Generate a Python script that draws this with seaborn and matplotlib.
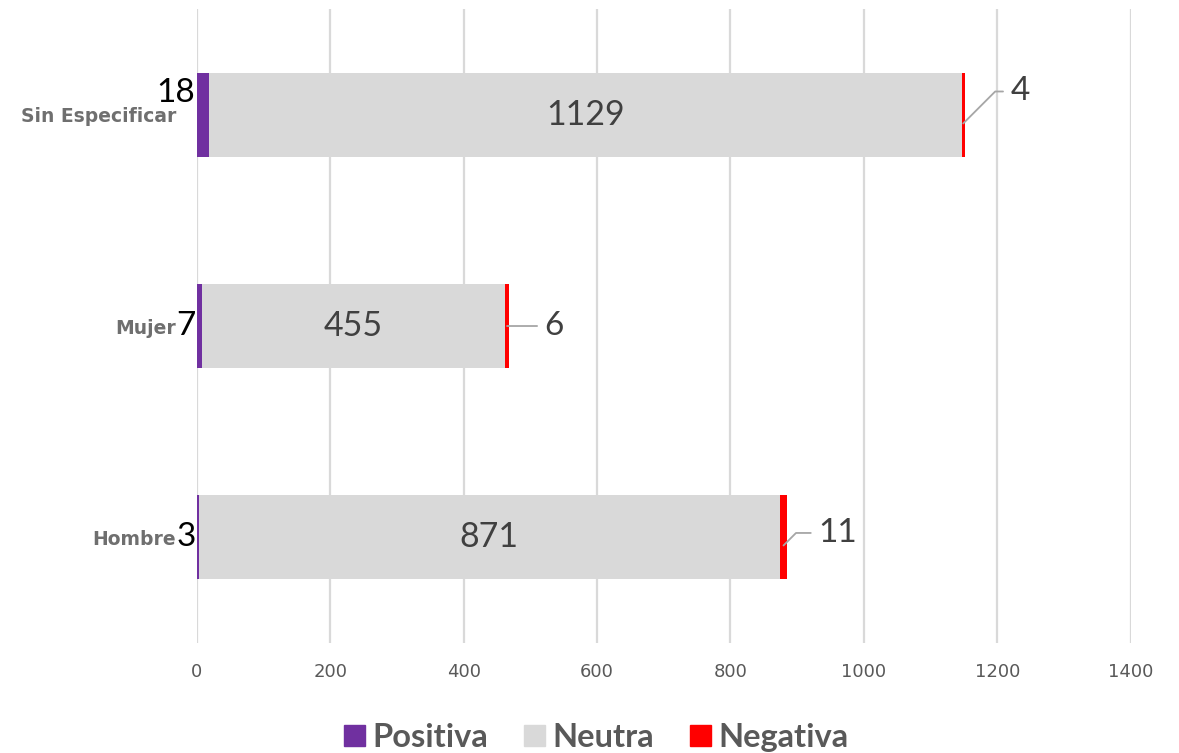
import matplotlib
matplotlib.use("Agg")
import matplotlib.pyplot as plt
import seaborn as sns
import pandas as pd
from matplotlib.patches import Patch

categories = ["Sin Especificar", "Mujer", "Hombre"]
positiva = [18, 7, 3]
neutra = [1129, 455, 871]
negativa = [4, 6, 11]
xticks = [0, 200, 400, 600, 800, 1000, 1200, 1400]

c_pos, c_neu, c_neg = "#7030a0", "#d9d9d9", "#ff0000"

df = pd.DataFrame({"cat": categories, "pos": positiva, "neu": neutra, "neg": negativa})
df["cum_neu"] = df["pos"] + df["neu"]
df["cum_neg"] = df["cum_neu"] + df["neg"]

sns.set_theme(style="white")
plt.rcParams["font.family"] = ["Lato", "DejaVu Sans"]

fig = plt.figure(figsize=(11.79, 7.53), dpi=100)
ax = fig.add_axes([0.167, 0.1467, 0.792, 0.8407])

bw = 0.40
sns.barplot(data=df, y="cat", x="cum_neg", orient="h", color=c_neg, width=bw,
            saturation=1, ax=ax, linewidth=0, zorder=3)
sns.barplot(data=df, y="cat", x="cum_neu", orient="h", color=c_neu, width=bw,
            saturation=1, ax=ax, linewidth=0, zorder=3)
sns.barplot(data=df, y="cat", x="pos", orient="h", color=c_pos, width=bw,
            saturation=1, ax=ax, linewidth=0, zorder=3)

ax.set_xlim(0, 1400)
ax.set_ylim(2.5, -0.5)
ax.set_xticks(xticks)
ax.set_xticklabels([str(t) for t in xticks], family=["Liberation Sans Narrow", "DejaVu Sans"],
                   fontsize=13, color="#595959")
ax.tick_params(axis="x", length=0, pad=15)
ax.set_yticks(range(len(categories)))
ax.set_yticklabels(categories, fontsize=13.5, fontweight="bold", color="#6f6f6f",
                   family=["DejaVu Sans"])
ax.tick_params(axis="y", length=0, pad=15)
ax.set_xlabel("")
ax.set_ylabel("")
ax.grid(axis="x", color="#d9d9d9", linewidth=1.6, zorder=0)
ax.grid(axis="y", visible=False)
for s in ax.spines.values():
    s.set_visible(False)

# positive labels (left of axis)
pos_dy = [16, 0, 0]
for i, v in enumerate(positiva):
    ax.annotate(str(v), xy=(0, i), xytext=(-1, pos_dy[i]), textcoords="offset points",
                ha="right", va="center", fontsize=24, color="black", zorder=5)

# neutral labels centered
for i, (p, n) in enumerate(zip(positiva, neutra)):
    ax.text(p + n / 2, i, str(n), ha="center", va="center", fontsize=24.5,
            color="#404040", zorder=5)

# negative labels with leader lines
neg_off = [(34, 23), (27, 0), (25, 9)]
for i, (v, tot) in enumerate(zip(negativa, df["cum_neg"])):
    dx, dy = neg_off[i]
    ax.annotate(str(v), xy=(tot - v / 2, i + (0.04 if dy else 0)), xytext=(dx, dy),
                textcoords="offset points", ha="left", va="center", fontsize=24,
                color="#404040", zorder=5,
                arrowprops=dict(arrowstyle="-", color="#a6a6a6", lw=1.3,
                                shrinkA=3, shrinkB=0,
                                connectionstyle="angle,angleA=0,angleB=45,rad=0" if dy else "arc3"))

handles = [Patch(color=c_pos, label="Positiva"), Patch(color=c_neu, label="Neutra"),
           Patch(color=c_neg, label="Negativa")]
leg = fig.legend(handles=handles, loc="center", bbox_to_anchor=(0.506, 0.021), ncol=3,
                 frameon=False, fontsize=23.5, handlelength=0.62, handleheight=0.62,
                 handletextpad=0.25, columnspacing=1.1, borderaxespad=0)
for t in leg.get_texts():
    t.set_color("#595959")
    t.set_fontweight("bold")

fig.savefig("out.png", dpi=100)
